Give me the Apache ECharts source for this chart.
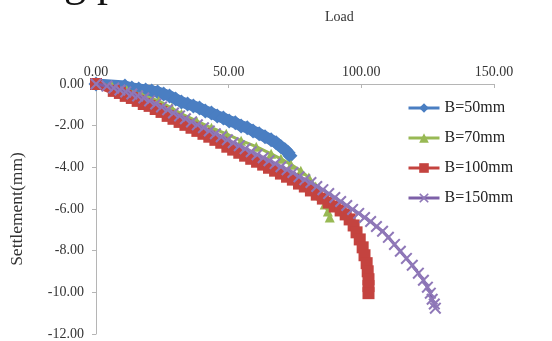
<!DOCTYPE html>
<html><head><meta charset="utf-8">
<script src="https://cdn.jsdelivr.net/npm/echarts@6/dist/echarts.min.js"></script>
<style>html,body{margin:0;padding:0;background:#fff}#c{width:552px;height:341px}</style>
</head><body><div id="c"></div>
<script>
// ---- data ----
const seriesNames = ['B=50mm', 'B=70mm', 'B=100mm', 'B=150mm'];
const xName = 'Load';
const yName = 'Settlement(mm)';

// [load, settlement]
const b50 = [[0,0],[10.9,-0.10],[13.5,-0.19],[16.1,-0.24],[18.7,-0.29],[21.0,-0.33],[23.2,-0.38],[25.5,-0.48],[27.7,-0.57],[30.0,-0.72],[32.2,-0.86],[34.5,-0.96],[36.7,-1.05],[39.0,-1.15],[41.2,-1.29],[43.5,-1.39],[45.7,-1.53],[48.0,-1.63],[50.2,-1.77],[52.5,-1.86],[54.7,-2.01],[57.0,-2.10],[59.2,-2.25],[61.5,-2.39],[63.7,-2.53],[66.0,-2.68],[67.9,-2.82],[69.7,-3.01],[71.2,-3.15],[72.4,-3.30],[73.1,-3.44]];

const b70 = [[0,0],[6.0,-0.10],[11.6,-0.29],[17.2,-0.53],[23.6,-0.81],[28.5,-1.15],[32.2,-1.43],[37.9,-1.77],[43.5,-2.10],[49.1,-2.39],[54.7,-2.72],[60.4,-3.01],[66.0,-3.35],[69.7,-3.59],[73.5,-3.87],[77.2,-4.16],[80.2,-4.49],[82.8,-4.92],[84.7,-5.35],[86.2,-5.78],[87.4,-6.12],[88.1,-6.41]];

const b100 = [[0,0],[6.7,-0.33],[9.0,-0.43],[11.2,-0.57],[13.5,-0.67],[15.7,-0.81],[18.0,-0.96],[20.2,-1.05],[22.5,-1.20],[24.7,-1.34],[27.0,-1.53],[29.2,-1.67],[31.5,-1.82],[33.7,-1.96],[36.0,-2.10],[38.2,-2.25],[40.5,-2.39],[42.7,-2.53],[45.0,-2.68],[47.2,-2.82],[49.5,-3.01],[51.7,-3.15],[54.0,-3.30],[56.2,-3.44],[58.5,-3.59],[60.7,-3.73],[63.0,-3.87],[65.2,-4.02],[67.5,-4.16],[69.7,-4.30],[72.0,-4.45],[74.2,-4.59],[76.5,-4.78],[78.7,-4.92],[81.0,-5.11],[83.2,-5.31],[85.5,-5.50],[87.7,-5.69],[90.0,-5.88],[92.2,-6.07],[94.1,-6.26],[95.6,-6.50],[97.1,-6.79],[98.2,-7.12],[99.4,-7.46],[100.5,-7.84],[101.2,-8.22],[102.0,-8.60],[102.4,-8.99],[102.7,-9.37],[102.7,-9.70],[102.7,-10.04]];

const b150 = [[0,0],[4.1,-0.10],[6.7,-0.19],[9.0,-0.29],[11.2,-0.38],[13.5,-0.48],[15.7,-0.57],[18.0,-0.67],[20.2,-0.81],[22.5,-0.96],[24.7,-1.10],[27.0,-1.24],[29.2,-1.39],[31.5,-1.53],[33.7,-1.67],[36.0,-1.82],[38.2,-1.96],[40.5,-2.10],[42.7,-2.25],[45.0,-2.39],[47.2,-2.53],[49.5,-2.68],[51.7,-2.82],[54.0,-2.96],[56.2,-3.11],[58.5,-3.25],[60.7,-3.39],[63.0,-3.54],[65.2,-3.68],[67.5,-3.82],[69.7,-3.97],[72.0,-4.11],[74.2,-4.25],[76.5,-4.45],[78.7,-4.59],[81.0,-4.73],[83.2,-4.92],[85.5,-5.07],[87.7,-5.26],[90.0,-5.45],[92.2,-5.64],[94.5,-5.83],[96.7,-6.02],[99.0,-6.21],[101.2,-6.41],[103.5,-6.60],[105.7,-6.84],[108.0,-7.07],[110.2,-7.36],[112.5,-7.70],[114.7,-8.03],[117.0,-8.37],[119.2,-8.70],[121.5,-9.08],[123.4,-9.42],[124.9,-9.75],[126.0,-10.04],[126.7,-10.33],[127.5,-10.56],[127.9,-10.76]];

const xMin = 0, xMax = 150, xStep = 50;
const yMin = -12, yMax = 0, yStep = 2;

// ---- chart ----
const serif = "'Liberation Serif','Times New Roman',serif";
const colors = ['#4a7ec2', '#98b954', '#c4433f', '#7d60a8'];
const xPath = 'path://M0,1.2 L1.2,0 L5,3.8 L8.8,0 L10,1.2 L6.2,5 L10,8.8 L8.8,10 L5,6.2 L1.2,10 L0,8.8 L3.8,5 Z';
const datasets = [b50, b70, b100, b150];
const symbols = ['diamond', 'triangle', 'rect', xPath];
const symbolSizes = [15, 10, 12, 12];
const lineWidths = [11, 3, 8, 3];

const chart = echarts.init(document.getElementById('c'), null, {renderer: 'canvas'});
chart.setOption({
  backgroundColor: '#fff',
  animation: false,
  color: colors,
  grid: {left: 94, top: 84, width: 400, height: 251, containLabel: false},
  xAxis: {
    type: 'value', position: 'top', min: xMin, max: xMax, interval: xStep,
    axisLine: {show: true, onZero: false, lineStyle: {color: '#b5b5b5', width: 1}},
    axisTick: {show: true, inside: true, length: 4, lineStyle: {color: '#b5b5b5'}},
    splitLine: {show: false},
    axisLabel: {margin: 5, color: '#333', fontFamily: serif, fontSize: 14,
      formatter: v => v.toFixed(2)}
  },
  yAxis: {
    type: 'value', min: yMin, max: yMax, interval: yStep,
    name: yName, nameLocation: 'middle', nameGap: 70, nameRotate: 90,
    nameTextStyle: {color: '#333', fontFamily: serif, fontSize: 17.5},
    axisLine: {show: true, onZero: false, lineStyle: {color: '#b5b5b5', width: 1}},
    axisTick: {show: true, inside: false, length: 4, lineStyle: {color: '#b5b5b5'}},
    splitLine: {show: false},
    axisLabel: {margin: 12, color: '#333', fontFamily: serif, fontSize: 14,
      formatter: v => v.toFixed(2)}
  },
  legend: {
    orient: 'vertical', left: 407, top: 100, padding: 0, itemWidth: 31, itemHeight: 12, itemGap: 14,
    lineStyle: {width: 3},
    textStyle: {fontFamily: serif, fontSize: 16, color: '#222', lineHeight: 16},
    data: seriesNames
  },
  graphic: [
    {type: 'text', left: 341 - 16, top: 10, style: {text: xName, font: "14px 'Liberation Serif', serif", fill: '#333'}},
    {type: 'text', x: 42, y: -16, style: {text: 'ng p', font: "44px 'Liberation Serif', serif", fill: '#111', verticalAlign: 'middle'}}
  ],
  series: datasets.map((d, i) => ({
    name: seriesNames[i], type: 'line', data: d,
    symbol: symbols[i], symbolSize: symbolSizes[i], showAllSymbol: true,
    lineStyle: {width: lineWidths[i], color: colors[i]},
    itemStyle: {color: i === 3 ? '#8f78b8' : colors[i]},
    z: 2 + i
  }))
});
</script></body></html>
